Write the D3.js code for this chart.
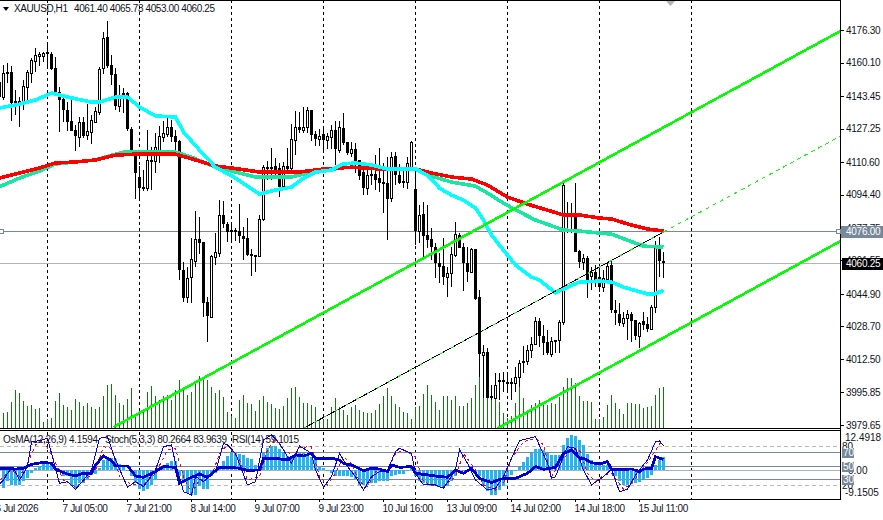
<!DOCTYPE html>
<html>
<head>
<meta charset="utf-8">
<title>XAUUSD H1</title>
<script src="https://cdn.jsdelivr.net/npm/d3@7"></script>
<style>
  html, body { margin: 0; padding: 0; background: #fff; }
  svg { display: block; }
  text { font-family: "Liberation Sans", Arial, sans-serif; fill: #10131a; }
</style>
</head>
<body>
<svg id="chart" width="883" height="520"></svg>
<script>
// Hourly gold candles, one entry per bar.
const opens = [
  4142.9,4155.4,4155.4,4140.9,4140.9,4139.4,4147.9,4154.9,4160.8,4163.3,
  4163.3,4165.3,4164.3,4157.4,4145.4,4141.9,4136.4,4131,4126.5,4123,
  4130.5,4124,4125.5,4130.5,4135.4,4157.4,4172.8,4158.8,4154.4,4138.4,
  4144.9,4144.9,4127,4113.5,4103.1,4098.1,4097.6,4111.6,4111.1,4115.5,
  4123,4124.5,4128,4123.5,4121,4056.8,4043.3,4053.3,4061.3,4072.2,
  4070.7,4040.8,4033.4,4063.2,4065.2,4084.2,4079.7,4076.7,4076.7,4076.2,
  4073.7,4072.7,4064.7,4064.2,4063.7,4082.2,4108.1,4108.1,4108.6,4107.6,
  4098.6,4108.6,4107.6,4121.5,4128,4126.5,4128,4136.4,4124.5,4122,
  4124.5,4121.5,4123,4126.5,4116.5,4127.5,4120.5,4115,4117,4111.6,
  4105.6,4097.6,4104.6,4104.6,4102.6,4100.6,4100,4092.6,4113.5,4104,
  4101,4100.5,4108,4097,4076.2,4084.6,4074.2,4072.2,4068.2,4060.3,
  4058.8,4053.3,4055.3,4064.2,4074.2,4068.2,4060.3,4055.8,4067.2,4043.3,
  4014.4,4015.9,3994,3993,4002,4002,4001,4001,4000.5,4003.5,
  4011.5,4011.5,4016.9,4020,4031.4,4023.9,4020.9,4014.9,4021.9,4021.9,
  4030.9,4083.7,4083.7,4085.2,4066.2,4060.8,4062.8,4053.8,4055.8,4053.3,
  4048.3,4052.3,4059.3,4036.9,4034.9,4030.4,4032.9,4034.9,4031.9,4023.9,
  4031.4,4029.9,4027.4,4038.3,4067.2,4061.40
];
const highs = [
  4158.8,4159.8,4158.3,4146.4,4142.9,4151.4,4156.4,4162.3,4167.3,4165.3,
  4165.3,4169.8,4165.3,4162.8,4147.9,4144.4,4140.4,4141.4,4129,4133,
  4133,4139.4,4134,4138,4157.9,4175.3,4180.7,4163.8,4157.4,4148.9,
  4147.4,4145.4,4128,4114.5,4108.6,4106.6,4126.5,4118,4125,4128.5,
  4131,4133.5,4131.5,4126.5,4121.5,4060.8,4058.3,4072.7,4086.2,4083.2,
  4070.7,4043.3,4064.2,4075.2,4091.6,4091.1,4080.7,4080.7,4077.7,4089.6,
  4078.2,4082.7,4067.2,4064.2,4084.2,4109.1,4111.1,4117.5,4112.6,4110.1,
  4110.6,4117.5,4129.5,4136,4135.5,4138,4138,4136.4,4126,4127,
  4127.5,4125,4129,4131,4131,4135,4120.5,4120.5,4120,4111.6,
  4110.6,4108,4110,4114,4117.5,4110,4113,4115.5,4115.5,4109.6,
  4108,4113,4121,4107.5,4089.1,4090.6,4089.1,4077.7,4070.2,4065.2,
  4072.7,4058.3,4068.2,4080.7,4075.2,4070.2,4068.2,4067.7,4067.2,4046.8,
  4019.4,4017.9,3999.5,4005.5,4005.5,4006,4006,4003,4008.5,4012,
  4019,4019.4,4023.4,4033.4,4032.9,4029.4,4026.9,4023.4,4021.9,4031.9,
  4100.1,4090.6,4090.1,4100.1,4066.7,4064.7,4063.7,4058.3,4059.3,4058.3,
  4056.8,4060.8,4061.8,4041.8,4040.3,4035.9,4036.9,4035.9,4031.9,4030.9,
  4035.9,4033.4,4039.3,4071.2,4073.2,4065.73
];
const lows = [
  4141.4,4149.9,4131,4133.9,4128,4136.4,4141.4,4149.9,4155.4,4158.3,
  4160.3,4157.9,4156.4,4145.4,4125.5,4130.5,4126,4126,4116,4118,
  4122.5,4121.5,4119.5,4130,4133.9,4154.4,4157.4,4149,4136.4,4135.4,
  4134.9,4126,4114,4092.1,4092.6,4096.1,4096.1,4096.6,4105,4110,
  4120.5,4123,4120.5,4115.5,4051.8,4040.8,4040.3,4040.3,4058.3,4064.7,
  4033.4,4020.9,4032.9,4059.3,4063.2,4077.7,4070.7,4070.2,4071.2,4070.2,
  4061.8,4063.7,4053.8,4055.8,4063.2,4081.2,4101.6,4101.6,4103.1,4093.1,
  4097.6,4105.6,4106.6,4114,4125,4125,4125,4121,4118.5,4118.5,
  4116.5,4117,4117,4109,4115,4119,4114,4113,4105,4101.6,
  4094.1,4094.1,4099,4096.6,4095.6,4085,4071.7,4090.6,4099,4099.6,
  4097.6,4097,4107,4069.2,4070.2,4061.8,4067.7,4061.8,4052.8,4050.3,
  4049.3,4043.3,4048.3,4063.2,4067.7,4046.3,4050.8,4055.3,4041.8,4003.5,
  3993,3993,3992,3992.5,3992,3996,3995.5,3992,3996,3998.5,
  4005.5,4009.5,4013,4019.4,4018.4,4014.4,4014.4,4013.4,4015.4,4015.4,
  4029.4,4075.2,4075.2,4065.7,4057.8,4056.8,4042.8,4046.8,4048.3,4045.8,
  4045.8,4051.8,4035.4,4029.4,4028.9,4028.4,4021.9,4020.9,4021.9,4017.9,
  4026.9,4025.9,4026.9,4035.4,4053.3,4053.00
];
const closes = [
  4154.9,4154.4,4139.9,4138.9,4139.4,4148.4,4155.4,4161.3,4163.8,4164.3,
  4164.8,4164.3,4156.9,4145.4,4141.4,4136.4,4130.5,4126,4123.5,4130.5,
  4123.5,4126,4131.5,4136,4156.9,4172.3,4158.4,4153.9,4138.4,4143.9,
  4142.9,4127,4115.5,4105.1,4097.6,4097.6,4111.6,4111.1,4118,4123.5,
  4125,4128,4123,4120.5,4056.8,4042.8,4052.8,4062.3,4072.2,4070.2,
  4040.3,4033.9,4063.7,4065.7,4084.2,4079.7,4075.7,4075.7,4076.2,4073.7,
  4072.2,4064.2,4063.7,4063.2,4082.2,4108.1,4107.6,4107.6,4105.6,4098.1,
  4108.6,4107.1,4122,4128,4126.5,4128,4136.4,4124,4122,4123.5,
  4121.5,4123.5,4126.5,4117,4128,4120,4115,4117,4110.6,4103.6,
  4097.6,4104,4104,4101.6,4100,4100,4092,4113,4104,4100,
  4100.5,4110,4120.5,4076.2,4084.2,4073.7,4071.7,4068.2,4060.3,4058.3,
  4053.3,4055.3,4064.7,4074.7,4067.7,4060.3,4055.8,4067.2,4042.3,4014.9,
  4015.9,3993,3993,3999.5,4001.5,4001.5,4000,4000,4003.5,4010.5,
  4010.5,4016.9,4020,4031.4,4023.9,4020.4,4015.4,4021.4,4021.4,4030.9,
  4099.1,4084.2,4084.2,4065.7,4060.8,4062.8,4051.8,4055.8,4050.3,4048.3,
  4052.8,4058.8,4036.9,4035.4,4030.4,4032.9,4034.9,4031.4,4023.9,4030.4,
  4029.4,4027.4,4038.3,4067.7,4061.3,4060.25
];
// Body of the bar just left of the window, of which only one edge is in view.
const leadBody = [4143, 4150.4];
// Tick volume per bar, in hundreds.
const volumes = [
  15,16,26,38,35,27,22,23,19,20, 6,9,10,27,35,23,21,18,29,26,
  22,25,21,19,21,32,43,44,33,25, 23,29,40,11,15,18,36,42,32,28,
  32,33,28,38,48,38,33,36,46,52, 51,48,41,35,38,31,16,12,10,28,
  33,25,24,17,28,32,26,24,20,19, 22,30,40,41,31,25,25,23,21,8,
  9,9,21,30,21,18,13,21,23,18, 16,15,15,18,24,32,40,32,24,21,
  16,15,9,21,22,34,43,33,26,18, 32,32,28,32,22,22,25,30,43,51,
  36,40,30,30,26,15,10,12,25,41, 30,15,23,25,28,23,23,25,24,31,
  41,50,50,45,32,27,27,26,9,9, 11,23,33,25,19,14,25,25,24,24,
  20,21,22,33,40,41
];
// OsMA(12,26,9) histogram per bar.
const osma = [
  -5.72,-3.5,-4.77,-4.77,-4.77,-3.5,-2.54,-.95,.64,1.27,
  2.23,2.23,1.59,.64,-.32,-1.91,-1.91,-4.77,-6.04,-4.13,
  -4.13,-3.18,-1.59,-1.27,.64,3.18,3.82,3.82,3.5,1.91,
  1.27,-.32,-1.91,-4.13,-6.04,-6.68,-6.04,-4.77,-3.18,.64,
  1.59,2.23,2.86,2.86,-1.91,-4.13,-7.31,-7.95,-7.95,-5.09,
  -6.04,-6.04,-1.91,-.95,.64,2.86,4.45,5.41,5.41,5.09,
  4.77,3.82,3.5,1.59,1.27,5.41,7,7.63,7.63,6.68,
  5.41,4.45,4.13,4.45,5.41,5.41,4.77,4.13,3.18,1.27,
  .64,-.32,-.95,-1.91,-1.91,-1.91,-1.91,-2.23,-3.18,-4.77,
  -4.77,-4.77,-4.13,-4.13,-3.5,-3.5,-3.5,-1.91,-1.59,-1.27,
  -1.27,-.32,.64,-1.91,-3.5,-4.13,-4.77,-5.09,-5.09,-5.41,
  -5.72,-5.09,-3.5,-1.91,-.95,-.32,-.32,-.32,-1.27,-1.91,
  -4.77,-6.68,-7.95,-7.95,-6.36,-5.09,-3.18,-1.59,-.32,.95,
  2.54,4.13,5.41,6.68,6.68,6.36,5.41,4.77,4.77,4.77,
  7.95,10.18,11.13,10.81,9.54,7.95,5.09,3.18,2.23,1.59,
  1.59,1.59,0,-1.91,-3.5,-4.77,-4.77,-4.45,-4.13,-3.82,
  -2.86,-2.54,-1.59,1.59,3.18,4.1594
];

// Moving averages, read at the bars listed beside them.
const cyanBars = [-1,0,3,8,12,16,22,24,28,31,34,38,43,45,49,53,58,64,68,72,75,78,82,85,88,92,96,99,103,106,109,112,115,118,120,122,125,128,132,134,138,142,144,149,152,155,161,163,165];
const cyanMA = [4137.4,4137.9,4138.9,4141.4,4144.9,4142.9,4140.4,4140.4,4142.9,4142.9,4137.9,4133.5,4133,4125.5,4116.5,4108,4102.6,4094.6,4096.6,4098.1,4102.6,4105.6,4106.6,4109.6,4110.1,4109.1,4107.1,4107.1,4107.1,4104.1,4097.6,4094.1,4091.6,4087.7,4081.7,4074.2,4066.7,4059.3,4053.3,4051.8,4045.4,4049.3,4050.8,4051.3,4050.8,4048.3,4044.9,4044.9,4046.8];
const tealBars = [-1,0,4,9,13,18,23,28,30,43,47,53,57,63,72,75,80,84,87,92,103,107,112,118,121,125,129,133,140,144,149,152,156,160,165];
const tealMA = [4098.4,4099.1,4102.6,4106.1,4109.6,4110.6,4111.6,4114.5,4115.5,4115.5,4113,4108,4106.1,4103.1,4103.1,4104.6,4106.1,4107.6,4108,4107.6,4107.1,4103.6,4100.6,4098.6,4095.1,4090.1,4085.7,4081.7,4076.7,4076.2,4075.2,4074.7,4071.7,4068.7,4068.2];
const redBars = [-1,0,4,9,13,18,23,28,33,43,48,53,57,64,74,80,87,94,103,107,112,117,121,126,131,135,140,144,149,152,157,161,165];
const redMA = [4102.6,4103.1,4105.1,4107.6,4110.1,4110.6,4111.6,4114,4114.5,4114.5,4111.6,4108.6,4107.6,4105.6,4105.6,4107.1,4108,4107.1,4107.1,4105.1,4103.1,4102.1,4099.1,4093.1,4089.6,4087.2,4084.2,4084.2,4082.7,4082.2,4079.2,4077.2,4076.2];

// Oscillators in the lower pane.
const rsiBars = [-1,0,3,5,7,10,12,13,16,18,20,22,23,25,27,28,31,33,35,38,40,43,44,47,49,51,54,57,59,61,64,65,68,71,73,75,77,78,82,84,85,87,90,92,94,96,97,99,102,103,108,111,113,115,117,119,122,124,126,128,131,133,135,138,140,142,144,145,147,149,151,152,155,157,159,160,162,163,165];
const rsiValues = [45.2,45.7,44.7,45.7,51.8,54.8,53.3,44.2,37.1,34.1,38.2,38.2,50.8,64.4,57.3,49.3,49.3,34.1,32.1,40.7,48.3,47.3,23,32.1,37.1,32.1,47.3,47.3,45.7,42.7,43.2,60.9,60.9,58.4,66,64.4,68.4,60.9,60.9,58.4,53.3,50.8,42.2,45.7,44.7,40.7,50.8,47.3,48.3,38.2,34.1,32.1,43.2,38.2,45.7,30.6,24,29,30.6,30.6,38.2,48.3,44.2,47.3,68.4,73.5,60.9,60.9,54.3,52.3,55.8,44.2,44.2,44.7,40.7,44.7,45.7,63.4,59.1];
const stochBars = [-1,0,1,2,3,4,6,7,9,11,14,16,18,20,22,24,26,28,31,33,35,38,40,42,43,45,47,48,50,53,55,56,58,61,63,65,67,69,72,74,77,78,80,82,84,86,88,90,92,94,96,98,99,102,103,105,108,110,113,114,116,118,121,123,125,127,129,133,136,137,138,141,143,145,147,150,152,154,156,158,161,163,164,165];
const stochMain = [22,28,38.1,45.7,40.7,28,48.3,86.1,87.6,91.2,23,25.5,13.9,28,43.2,91.2,93.7,58.4,17,25.5,17.9,43.2,78.6,81.1,53.3,10.4,5.3,33.1,25.5,40.7,83.6,81.1,68.4,20.5,25.5,88.6,96.2,83.6,53.3,79.6,68.4,43.2,17,33.1,68.4,48.3,33.1,12.9,33.1,40.7,43.2,71,76,68.4,38.1,20.5,20.5,15.4,43.2,74.5,53.3,28,12.9,15.4,33.1,60.9,87.6,93.7,53.3,30.6,33.1,78.6,76,43.2,20.5,33.1,44.2,10.4,14,35.6,58.4,86.1,87.1,80.27];
const signalBars = [-1,0,2,4,6,8,10,13,15,18,20,23,25,27,29,32,35,38,41,43,45,47,49,52,54,56,59,61,64,66,68,70,73,74,77,79,81,83,85,87,89,91,93,96,98,100,103,105,108,110,113,115,118,120,123,125,127,130,133,135,137,139,142,144,146,148,150,152,155,157,159,162,164,165];
const stochSignal = [28,33.1,43.2,33.1,53.3,81.1,88.6,53.3,28,17.9,25.5,43.2,78.6,76,33.1,20.5,20.5,38.1,73.5,76,33.1,7.9,28,33.1,68.4,81.1,58.4,28,33.1,73.5,91.2,73.5,63.4,77.5,78.5,33.1,20.5,38.1,63.4,53.3,25.5,17.9,40.7,40.7,68.4,73.5,63.4,25.5,17.9,17.9,33.1,68.4,43.2,20.5,12.9,23,60.9,86.1,91.2,81.1,33.1,53.3,73.5,73.5,38.1,25.5,35.6,38.1,14,23,38.1,63.4,82.6,83.96];

// Channel rails as [bar, price] pairs.
const channelUpper = [[27.5,3978.6],[209.25,4175.8]];
const channelLower = [[123.5,3978],[209.25,4071.2]];
const channelMiddle = [[75,3978],[165,4075.7]];
const channelMiddleRay = [[165,4075.7],[209.25,4123.5]];

// Axis content.
const priceTicks = [4176.30,4160.10,4143.45,4127.25,4110.60,4094.40,4077.75,4061.55,4044.90,4028.70,4012.50,3995.85,3979.65];
const timeBars = [-1,15,31,47,63,79,95,111,127,143,159];
const timeLabels = ["6 Jul 2026","7 Jul 05:00","7 Jul 21:00","8 Jul 14:00","9 Jul 07:00","9 Jul 23:00","10 Jul 16:00","13 Jul 09:00","14 Jul 02:00","14 Jul 18:00","15 Jul 11:00"];
const separatorBars = [11,34,57,80,103,126,149,172];
const oscLevels = [80,70,50,30,20];
const levelPrice = 4076.00;
const lastPrice = 4060.25;
const osmaTop = 12.4918;
const osmaBottom = -9.1505;

const svg = d3.select("#chart");
const plotRight = 840, mainTop = 1, mainBottom = 428, paneTop = 431, paneBottom = 499;

const x = d3.scaleLinear().domain([0, 1]).range([3, 7]);
const y = d3.scaleLinear().domain([3979.65, 4176.30]).range([425, 30]);
const volY = d3.scaleLinear().domain([0, 52]).range([mainBottom, mainBottom - 52]);
const osmaY = d3.scaleLinear().domain([osmaBottom, osmaTop]).range([paneBottom, paneTop]);
const oscY = d3.scaleLinear().domain([0, 100]).range([498.5, 432.5]);
const bars = d3.range(opens.length);
const px = v => Math.round(v);

const defs = svg.append("defs");
defs.append("clipPath").attr("id", "mainClip").append("rect")
  .attr("x", 0).attr("y", mainTop).attr("width", plotRight).attr("height", mainBottom - mainTop);
defs.append("clipPath").attr("id", "paneClip").append("rect")
  .attr("x", 0).attr("y", paneTop).attr("width", plotRight).attr("height", paneBottom - paneTop);

const main = svg.append("g").attr("clip-path", "url(#mainClip)").attr("shape-rendering", "crispEdges");
const pane = svg.append("g").attr("clip-path", "url(#paneClip)").attr("shape-rendering", "crispEdges");

// Session separators run through both panes.
[main, pane].forEach(g => {
  g.selectAll("line.sep").data(separatorBars).join("line").attr("class", "sep")
    .attr("x1", d => x(d) + .5).attr("x2", d => x(d) + .5)
    .attr("y1", 0).attr("y2", 520)
    .attr("stroke", "#000").attr("stroke-dasharray", "3,3");
});

// Horizontal price levels.
main.append("line").attr("x1", 0).attr("x2", plotRight)
  .attr("y1", px(y(levelPrice)) + .5).attr("y2", px(y(levelPrice)) + .5).attr("stroke", "#778899");
main.append("line").attr("x1", 0).attr("x2", plotRight)
  .attr("y1", px(y(lastPrice)) + .5).attr("y2", px(y(lastPrice)) + .5).attr("stroke", "#b4b4b4");

// Volume columns sit on the bottom of the price pane.
main.selectAll("rect.vol").data(bars).join("rect").attr("class", "vol")
  .attr("x", d => x(d)).attr("width", 1)
  .attr("y", d => px(volY(volumes[d]))).attr("height", d => mainBottom - px(volY(volumes[d])))
  .attr("fill", "#0b7d0b");

// Edge of the bar cut off by the window's left side.
main.append("rect").attr("x", 0).attr("width", 1)
  .attr("y", px(y(leadBody[1]))).attr("height", px(y(leadBody[0])) - px(y(leadBody[1])))
  .attr("fill", "#000");

// Candles: wick first, then the body.
main.selectAll("rect.wick").data(bars).join("rect").attr("class", "wick")
  .attr("x", d => x(d)).attr("width", 1)
  .attr("y", d => px(y(highs[d])))
  .attr("height", d => Math.max(1, px(y(lows[d])) - px(y(highs[d]))))
  .attr("fill", "#000");
const bull = d => closes[d] >= opens[d];
main.selectAll("rect.body").data(bars).join("rect").attr("class", "body")
  .attr("x", d => x(d) - (bull(d) ? .5 : 1))
  .attr("width", d => bull(d) ? 2 : 3)
  .attr("y", d => {
    const t = px(y(Math.max(opens[d], closes[d])));
    return bull(d) ? t + .5 : t;
  })
  .attr("height", d => {
    const h = px(y(Math.min(opens[d], closes[d]))) - px(y(Math.max(opens[d], closes[d])));
    return Math.max(bull(d) ? 1 : 2, h);
  })
  .attr("fill", d => bull(d) ? "#fff" : "#000")
  .attr("stroke", d => bull(d) ? "#000" : "none");

// Moving averages.
const maLine = (barsArr, vals, color) => {
  const line = d3.line().x((d, i) => x(barsArr[i]) + .5).y(d => y(d));
  main.append("path").attr("d", line(vals)).attr("fill", "none").attr("stroke", color).attr("stroke-width", 3.6);
};
maLine(tealBars, tealMA, "#19e6a0");
maLine(redBars, redMA, "#ff0000");
maLine(cyanBars, cyanMA, "#00ffff");

// Channel rails and the centre line with its dotted extension.
const rail = d3.line().x(d => x(d[0]) + .5).y(d => y(d[1]));
main.append("path").attr("d", rail(channelUpper)).attr("stroke", "#00ff00").attr("stroke-width", 2.6).attr("fill", "none");
main.append("path").attr("d", rail(channelLower)).attr("stroke", "#00ff00").attr("stroke-width", 2.6).attr("fill", "none");
main.append("path").attr("d", rail(channelMiddle)).attr("stroke", "#000").attr("fill", "none");
main.append("path").attr("d", rail(channelMiddle)).attr("stroke", "#00ff00").attr("stroke-dasharray", "3,9").attr("fill", "none");
main.append("path").attr("d", rail(channelMiddleRay)).attr("stroke", "#00ff00").attr("stroke-dasharray", "4,4").attr("fill", "none");

// Lower pane: reference levels.
pane.selectAll("line.level").data(oscLevels).join("line").attr("class", "level")
  .attr("x1", 0).attr("x2", plotRight)
  .attr("y1", d => px(oscY(d)) + .5).attr("y2", d => px(oscY(d)) + .5)
  .attr("stroke", d => (d === 80 || d === 20) ? "#b9b9b9" : "#778899")
  .attr("stroke-dasharray", d => (d === 80 || d === 20) ? "4,3" : null);
pane.append("line").attr("x1", 0).attr("x2", plotRight)
  .attr("y1", px(osmaY(0)) + .5).attr("y2", px(osmaY(0)) + .5).attr("stroke", "#a9b2bc");

// OsMA histogram.
pane.selectAll("rect.osma").data(bars).join("rect").attr("class", "osma")
  .attr("x", d => x(d) - 1).attr("width", 3)
  .attr("y", d => px(osmaY(Math.max(0, osma[d]))))
  .attr("height", d => Math.abs(px(osmaY(osma[d])) - px(osmaY(0))))
  .attr("fill", "#25b5ee");

// Oscillator lines.
const oscLine = barsArr => d3.line().x((d, i) => x(barsArr[i]) + .5).y(d => oscY(d));
pane.append("path").attr("d", oscLine(signalBars)(stochSignal)).attr("fill", "none").attr("stroke", "#ff0000").attr("stroke-dasharray", "3,3");
pane.append("path").attr("d", oscLine(stochBars)(stochMain)).attr("fill", "none").attr("stroke", "#0000ee");
pane.append("path").attr("d", oscLine(rsiBars)(rsiValues)).attr("fill", "none").attr("stroke", "#0000cd").attr("stroke-width", 2.8);

// Frame lines.
const frame = svg.append("g").attr("shape-rendering", "crispEdges").attr("stroke", "#000");
frame.append("line").attr("x1", 0).attr("x2", plotRight).attr("y1", .5).attr("y2", .5);
frame.append("line").attr("x1", 0).attr("x2", plotRight).attr("y1", 428.5).attr("y2", 428.5);
frame.append("line").attr("x1", 0).attr("x2", plotRight).attr("y1", 430.5).attr("y2", 430.5);
frame.append("line").attr("x1", 0).attr("x2", plotRight + 1).attr("y1", 499.5).attr("y2", 499.5);
frame.append("line").attr("x1", plotRight + .5).attr("x2", plotRight + .5).attr("y1", 0).attr("y2", 500);

// Price axis on the right edge.
const priceAxis = svg.append("g").attr("transform", `translate(${plotRight},0)`)
  .attr("shape-rendering", "crispEdges")
  .call(d3.axisRight(y).tickValues(priceTicks).tickFormat(d3.format(".2f")).tickSize(4).tickPadding(2));
priceAxis.select(".domain").remove();
priceAxis.selectAll("line").attr("stroke", "#000");
priceAxis.selectAll("text").attr("font-size", 10).attr("fill", "#10131a")
  .attr("font-family", '"Liberation Sans", Arial, sans-serif').attr("letter-spacing", "-.25");

// Time axis beneath the lower pane; labels start at their tick.
const timeAxis = svg.append("g").attr("transform", `translate(0,${paneBottom})`)
  .attr("shape-rendering", "crispEdges")
  .call(d3.axisBottom(x).tickValues(timeBars).tickFormat(d => timeLabels[timeBars.indexOf(d)]).tickSize(3).tickPadding(3));
timeAxis.select(".domain").remove();
timeAxis.selectAll("line").attr("stroke", "#000");
timeAxis.selectAll("text").attr("text-anchor", "start")
  .attr("x", d => d < 0 ? -4 : -1).attr("font-size", 10).attr("fill", "#10131a").attr("letter-spacing", "-.35")
  .attr("font-family", '"Liberation Sans", Arial, sans-serif');

// Boxed tags for the two marked prices.
const priceTag = (value, fill, left, h) => {
  const cy = y(value);
  svg.append("rect").attr("x", left).attr("y", px(cy) - h / 2 + .5).attr("width", 883 - left).attr("height", h)
    .attr("fill", fill).attr("shape-rendering", "crispEdges");
  svg.append("text").attr("x", 846).attr("y", px(cy) + 4).attr("font-size", 10).attr("letter-spacing", "-.25")
    .style("fill", "#fff").text(value.toFixed(2));
};
priceTag(levelPrice, "#778899", 841, 12);
priceTag(lastPrice, "#000", 842, 12);

// Drag handles at each end of the level line.
const handles = svg.append("g").attr("shape-rendering", "crispEdges");
[[-1, 0], [836, 0]].forEach(h => {
  handles.append("rect").attr("x", h[0] + .5).attr("y", px(y(levelPrice)) - 1.5).attr("width", 4).attr("height", 4)
    .attr("fill", "#fff").attr("stroke", "#778899");
});

// Lower pane scale: the OsMA extremes and the oscillator levels.
const paneLabels = svg.append("g").attr("font-size", 10);
[[osmaTop, 845], [0, 848], [osmaBottom, 845]].forEach(d => {
  paneLabels.append("text").attr("x", d[1]).attr("y", d[0] === osmaTop ? 441 : d[0] === 0 ? 474 : 496)
    .text(d[0] === 0 ? "0.00" : d[0].toFixed(4));
});
oscLevels.filter(d => d === 80 || d === 20).forEach(d => {
  paneLabels.append("text").attr("x", 842).attr("y", px(oscY(d)) + 3.5).text(d);
});
oscLevels.filter(d => d === 70 || d === 50 || d === 30).forEach(d => {
  const cy = px(oscY(d));
  paneLabels.append("rect").attr("x", 842).attr("y", cy - 4.5).attr("width", 12).attr("height", 10)
    .attr("fill", "#778899").attr("shape-rendering", "crispEdges");
  paneLabels.append("text").attr("x", 843).attr("y", cy + 4).style("fill", "#fff").text(d);
});

// Header captions, fitted to their slots.
const caption = (str, left, baseline, width) => {
  svg.append("text").attr("x", left).attr("y", baseline).attr("font-size", 10)
    .attr("textLength", width).attr("lengthAdjust", "spacing").text(str);
};
svg.append("polygon").attr("points", "3,7 9,7 6,11").attr("fill", "#000");
caption("XAUUSD,H1", 14, 12, 54);
caption(`${opens[165].toFixed(2)} ${highs[165].toFixed(2)} ${lows[165].toFixed(2)} ${closes[165].toFixed(2)}`, 74, 12, 141);
caption("OsMA(12,26,9) 4.1594", 3, 443, 95);
caption("Stoch(5,3,3) 80.2664 83.9639", 105, 443, 122);
caption("RSI(14) 59.1015", 232, 443, 67);

// Chart-shift marker at the top edge.
svg.append("polygon").attr("points", "666,1 675,1 670.5,6").attr("fill", "#b4b4b4");
</script>
</body>
</html>
